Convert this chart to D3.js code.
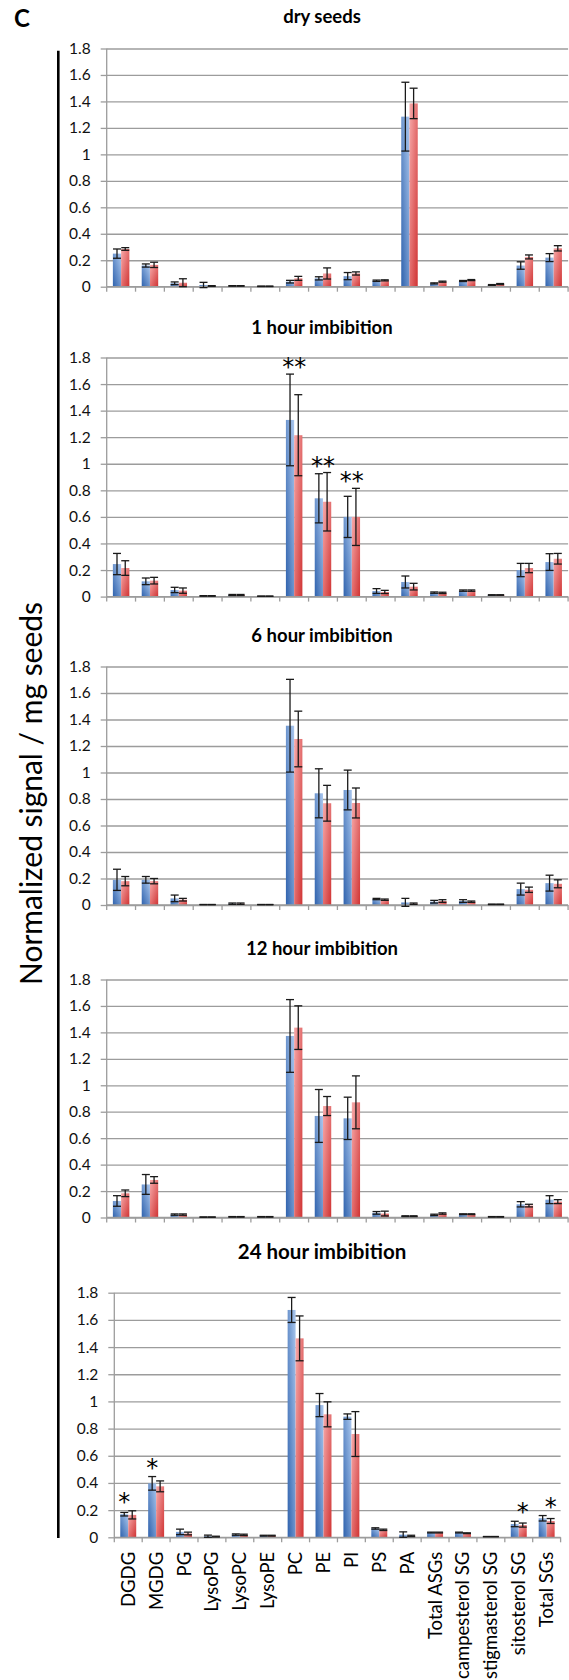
<!DOCTYPE html>
<html>
<head>
<meta charset="utf-8">
<script src="https://cdnjs.cloudflare.com/ajax/libs/d3/7.8.5/d3.min.js"></script>
<style>
body { margin: 0; background: #fff; }
text { font-family: Lato, "Liberation Sans", sans-serif; fill: #111; }
</style>
</head>
<body>
<div id="chart"></div>
<script>
// categories and y ticks
var lipids = ["DGDG", "MGDG", "PG", "LysoPG", "LysoPC", "LysoPE", "PC", "PE", "PI", "PS", "PA",
    "Total ASGs", "campesterol SG", "stigmasterol SG", "sitosterol SG", "Total SGs"];
var yTicks = [0, 0.2, 0.4, 0.6, 0.8, 1, 1.2, 1.4, 1.6, 1.8];
var yTickLabels = ["0", "0.2", "0.4", "0.6", "0.8", "1", "1.2", "1.4", "1.6", "1.8"];

// dry seeds
var dryA = [0.25, 0.16, 0.026, 0.013, 0.006, 0.003, 0.038, 0.063, 0.08, 0.045, 1.285, 0.025, 0.043, 0.013, 0.16, 0.22];
var dryAErr = [0.035, 0.012, 0.01, 0.02, 0.002, 0.002, 0.01, 0.012, 0.027, 0.005, 0.26, 0.004, 0.004, 0.003, 0.028, 0.03];
var dryB = [0.285, 0.165, 0.03, 0.005, 0.006, 0.003, 0.063, 0.1, 0.1, 0.048, 1.385, 0.038, 0.05, 0.02, 0.225, 0.29];
var dryBErr = [0.01, 0.02, 0.03, 0.003, 0.002, 0.002, 0.015, 0.042, 0.012, 0.004, 0.115, 0.004, 0.004, 0.004, 0.015, 0.02];

// 1 hour
var h1A = [0.245, 0.115, 0.05, 0.005, 0.012, 0.003, 1.33, 0.74, 0.6, 0.042, 0.11, 0.03, 0.045, 0.012, 0.2, 0.26];
var h1AErr = [0.08, 0.025, 0.02, 0.002, 0.004, 0.001, 0.345, 0.185, 0.155, 0.018, 0.045, 0.005, 0.005, 0.002, 0.05, 0.063];
var h1B = [0.215, 0.12, 0.045, 0.005, 0.012, 0.003, 1.215, 0.714, 0.6, 0.035, 0.075, 0.028, 0.045, 0.012, 0.215, 0.285];
var h1BErr = [0.055, 0.025, 0.02, 0.002, 0.004, 0.001, 0.305, 0.22, 0.215, 0.012, 0.025, 0.005, 0.005, 0.002, 0.035, 0.04];

// 6 hour
var h6A = [0.19, 0.19, 0.05, 0.003, 0.01, 0.003, 1.353, 0.843, 0.868, 0.045, 0.02, 0.025, 0.03, 0.005, 0.12, 0.165];
var h6AErr = [0.08, 0.025, 0.025, 0.001, 0.005, 0.001, 0.35, 0.185, 0.15, 0.005, 0.03, 0.01, 0.01, 0.002, 0.045, 0.06];
var h6B = [0.18, 0.18, 0.04, 0.003, 0.01, 0.003, 1.253, 0.768, 0.77, 0.04, 0.01, 0.03, 0.025, 0.005, 0.115, 0.16];
var h6BErr = [0.035, 0.02, 0.01, 0.001, 0.005, 0.001, 0.21, 0.135, 0.113, 0.005, 0.005, 0.01, 0.005, 0.002, 0.02, 0.03];

// 12 hour
var h12A = [0.125, 0.25, 0.022, 0.003, 0.005, 0.005, 1.373, 0.768, 0.75, 0.035, 0.01, 0.02, 0.025, 0.005, 0.1, 0.135];
var h12AErr = [0.04, 0.075, 0.005, 0.001, 0.002, 0.002, 0.275, 0.2, 0.16, 0.01, 0.003, 0.005, 0.003, 0.002, 0.02, 0.03];
var h12B = [0.183, 0.284, 0.022, 0.003, 0.005, 0.005, 1.436, 0.843, 0.871, 0.03, 0.01, 0.03, 0.025, 0.005, 0.09, 0.12];
var h12BErr = [0.025, 0.025, 0.005, 0.001, 0.002, 0.002, 0.165, 0.072, 0.2, 0.018, 0.003, 0.005, 0.003, 0.002, 0.01, 0.015];

// 24 hour
var h24A = [0.17, 0.397, 0.04, 0.008, 0.02, 0.012, 1.673, 0.973, 0.888, 0.065, 0.02, 0.035, 0.035, 0.005, 0.098, 0.14];
var h24AErr = [0.013, 0.05, 0.02, 0.008, 0.005, 0.003, 0.092, 0.085, 0.02, 0.005, 0.02, 0.003, 0.003, 0.001, 0.02, 0.02];
var h24B = [0.165, 0.375, 0.028, 0.005, 0.018, 0.012, 1.464, 0.905, 0.76, 0.055, 0.01, 0.035, 0.03, 0.005, 0.09, 0.12];
var h24BErr = [0.03, 0.04, 0.01, 0.003, 0.005, 0.003, 0.165, 0.092, 0.165, 0.005, 0.005, 0.003, 0.003, 0.001, 0.015, 0.018];

// significance marks
var h1Stars = ["PC", "PE", "PI"];
var h24StarsA = ["DGDG", "MGDG"];
var h24StarsB = ["sitosterol SG", "Total SGs"];

var width = 569, height = 1680;

var panels = [
    {title: "dry seeds", a: dryA, aErr: dryAErr, b: dryB, bErr: dryBErr,
        x0: 106.7, x1: 568.1, zero: 286.7, top: 48.5, titleY: 17, titleSize: 18.5},
    {title: "1 hour imbibition", a: h1A, aErr: h1AErr, b: h1B, bErr: h1BErr,
        x0: 106.7, x1: 568.1, zero: 596.6, top: 357.5, titleY: 327.7, titleSize: 18.5},
    {title: "6 hour imbibition", a: h6A, aErr: h6AErr, b: h6B, bErr: h6BErr,
        x0: 106.7, x1: 568.1, zero: 905, top: 666.5, titleY: 636, titleSize: 18.5},
    {title: "12 hour imbibition", a: h12A, aErr: h12AErr, b: h12B, bErr: h12BErr,
        x0: 106.7, x1: 568.1, zero: 1217.5, top: 979.5, titleY: 948.3, titleSize: 18.5},
    {title: "24 hour imbibition", a: h24A, aErr: h24AErr, b: h24B, bErr: h24BErr,
        x0: 114.3, x1: 560.6, zero: 1537.3, top: 1292.7, titleY: 1251.7, titleSize: 20.5}
];

var svg = d3.select("#chart").append("svg")
    .attr("width", width)
    .attr("height", height);

var defs = svg.append("defs");

function addGradient(id, from, to, x1, y1, x2, y2) {
    var g = defs.append("linearGradient")
        .attr("id", id)
        .attr("x1", x1).attr("y1", y1)
        .attr("x2", x2).attr("y2", y2);
    g.append("stop").attr("offset", "0%").attr("stop-color", from);
    g.append("stop").attr("offset", "100%").attr("stop-color", to);
}
addGradient("gBlue", "#aac7ee", "#2f62ad", 1, 0, 0, 1);
addGradient("gRed", "#f7aaaa", "#d03333", 0, 0, 1, 1);

// panel letter
svg.append("text")
    .attr("x", 14)
    .attr("y", 27)
    .style("font-size", "24px")
    .style("font-weight", "bold")
    .style("fill", "#000")
    .text("C");

// shared y axis title and bracket line
svg.append("line")
    .attr("x1", 58.3).attr("x2", 58.3)
    .attr("y1", 50.7).attr("y2", 1538)
    .style("stroke", "#000")
    .style("stroke-width", 2.6);

var yTitle = svg.append("text")
    .attr("transform", "translate(32,793.5) rotate(-90)")
    .attr("text-anchor", "middle")
    .attr("dy", "0.35em")
    .style("font-size", "30px")
    .style("fill", "#000")
    .text("Normalized signal / mg seeds");

// size the title so it spans the same length as in the figure
var titleLen = yTitle.node().getComputedTextLength();
if (titleLen > 0) {
    yTitle.style("font-size", (30 * 383 / titleLen) + "px");
}

panels.forEach(function (p, pi) {
    var x = d3.scaleBand()
        .domain(lipids)
        .range([p.x0, p.x1])
        .padding(0);
    var y = d3.scaleLinear()
        .domain([0, 1.8])
        .range([p.zero, p.top]);

    var bw = x.bandwidth() / 3.5;
    var g = svg.append("g");

    g.append("text")
        .attr("x", 322)
        .attr("y", p.titleY)
        .attr("text-anchor", "middle")
        .attr("dy", "0.35em")
        .style("font-size", p.titleSize + "px")
        .style("font-weight", "bold")
        .style("fill", "#000")
        .text(p.title);

    // gridlines
    g.append("g")
        .attr("transform", "translate(" + p.x0 + ",0)")
        .call(d3.axisLeft(y).tickValues(yTicks).tickSize(-(p.x1 - p.x0)).tickFormat(""))
        .call(function (a) {
            a.select(".domain").remove();
            a.selectAll("line").style("stroke", "#9c9c9c").style("stroke-width", 1.3);
        });

    // y axis with labels
    g.append("g")
        .attr("transform", "translate(" + p.x0 + ",0)")
        .call(d3.axisLeft(y).tickValues(yTicks).tickSize(6).tickPadding(10)
            .tickFormat(function (d, i) { return yTickLabels[i]; }))
        .call(function (a) {
            a.select(".domain").attr("d", "M0," + p.zero + "V" + p.top)
                .style("stroke", "#9c9c9c").style("stroke-width", 1.3);
            a.selectAll("line").style("stroke", "#9c9c9c").style("stroke-width", 1.3);
            a.selectAll("text")
                .style("font-size", "15.5px")
                .style("font-family", "Lato, 'Liberation Sans', sans-serif")
                .style("fill", "#111");
        });

    // category boundary ticks
    var bounds = lipids.map(function (d) { return x(d); }).concat([p.x1]);
    g.selectAll(".xtick")
        .data(bounds)
        .enter().append("line")
        .attr("x1", function (d) { return d; })
        .attr("x2", function (d) { return d; })
        .attr("y1", p.zero)
        .attr("y2", p.zero + 5)
        .style("stroke", "#9c9c9c")
        .style("stroke-width", 1.3);

    var series = [
        {vals: p.a, errs: p.aErr, off: 0.75 * bw, fill: "url(#gBlue)"},
        {vals: p.b, errs: p.bErr, off: 1.75 * bw, fill: "url(#gRed)"}
    ];

    series.forEach(function (s) {
        g.selectAll(null)
            .data(lipids)
            .enter().append("rect")
            .attr("x", function (d) { return x(d) + s.off; })
            .attr("width", bw)
            .attr("y", function (d, i) { return y(s.vals[i]); })
            .attr("height", function (d, i) { return p.zero - y(s.vals[i]); })
            .style("fill", s.fill);
    });

    // x axis line drawn over bar bottoms
    g.append("line")
        .attr("x1", p.x0).attr("x2", p.x1)
        .attr("y1", p.zero).attr("y2", p.zero)
        .style("stroke", "#9c9c9c")
        .style("stroke-width", 1.3);

    series.forEach(function (s) {
        var eb = g.selectAll(null)
            .data(lipids)
            .enter().append("g")
            .attr("transform", function (d) {
                return "translate(" + (x(d) + s.off + bw / 2) + ",0)";
            });
        eb.append("line")
            .attr("y1", function (d, i) { return y(s.vals[i] - s.errs[i]); })
            .attr("y2", function (d, i) { return y(s.vals[i] + s.errs[i]); });
        eb.append("line")
            .attr("x1", -4).attr("x2", 4)
            .attr("y1", function (d, i) { return y(s.vals[i] + s.errs[i]); })
            .attr("y2", function (d, i) { return y(s.vals[i] + s.errs[i]); });
        eb.append("line")
            .attr("x1", -4).attr("x2", 4)
            .attr("y1", function (d, i) { return y(s.vals[i] - s.errs[i]); })
            .attr("y2", function (d, i) { return y(s.vals[i] - s.errs[i]); });
        eb.selectAll("line")
            .style("stroke", "#1a1a1a")
            .style("stroke-width", 1.3);
    });

    function topOf(d) {
        var i = lipids.indexOf(d);
        return Math.max(p.a[i] + p.aErr[i], p.b[i] + p.bErr[i]);
    }

    function addStars(list, cx, label, gap) {
        g.selectAll(null)
            .data(list)
            .enter().append("text")
            .attr("x", cx)
            .attr("y", function (d) { return y(topOf(d)) - gap + 13; })
            .attr("text-anchor", "middle")
            .style("font-family", "'DejaVu Sans', sans-serif")
            .style("font-size", "24px")
            .style("fill", "#000")
            .text(label);
    }

    if (pi == 1) {
        addStars(h1Stars, function (d) { return x(d) + x.bandwidth() / 2; }, "**", 12);
    }

    if (pi == 4) {
        addStars(h24StarsA, function (d) { return x(d) + 1.25 * bw; }, "*", 14);
        addStars(h24StarsB, function (d) { return x(d) + 2.25 * bw; }, "*", 14);

        // category labels
        g.selectAll(".xlab")
            .data(lipids)
            .enter().append("text")
            .attr("transform", function (d) {
                return "translate(" + (x(d) + x.bandwidth() / 2) + "," + (p.zero + 14.5) + ") rotate(-90)";
            })
            .attr("text-anchor", "end")
            .attr("dy", "0.35em")
            .style("font-size", "18.5px")
            .style("fill", "#000")
            .text(function (d) { return d; });
    }
});
</script>
</body>
</html>
